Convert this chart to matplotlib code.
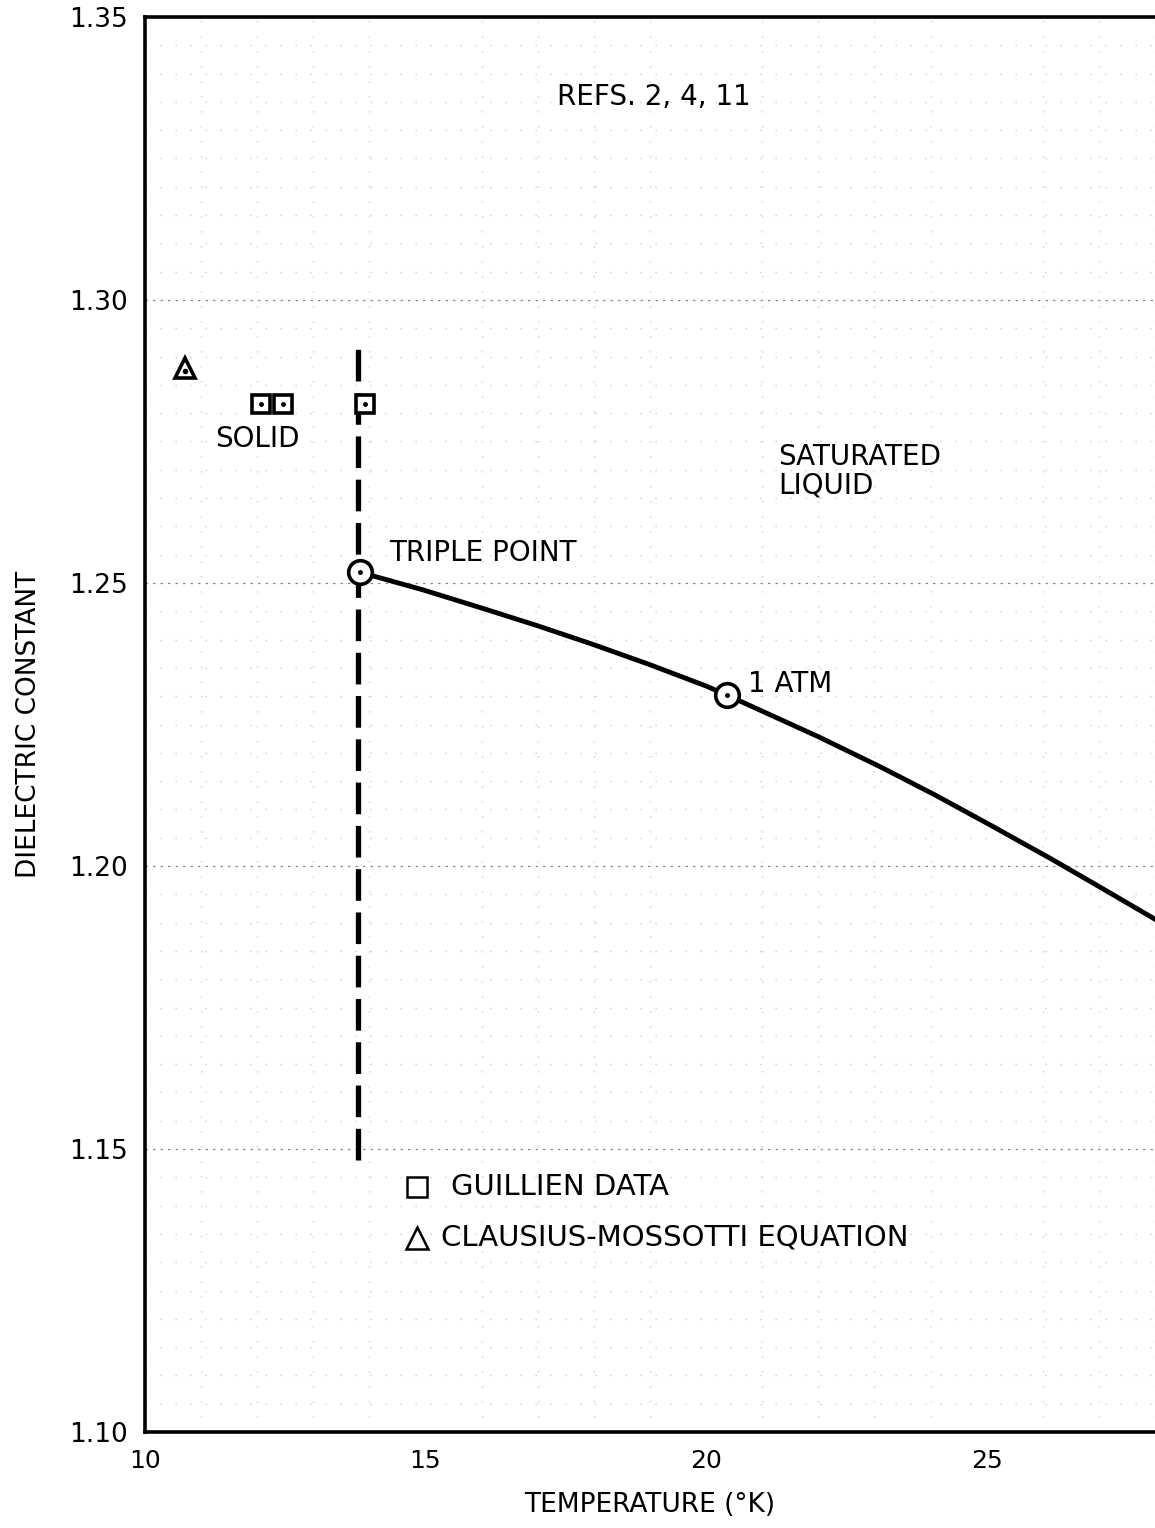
import matplotlib
matplotlib.use("Agg")
import matplotlib.pyplot as plt
import numpy as np

# saturated liquid curve
temp = [13.83, 14.95, 15.96, 16.98, 17.97, 18.99, 20.0, 20.37, 22.01, 23.13, 24.09, 25.09, 26.16, 27.05, 28.0]
eps = [1.2519, 1.2488, 1.2457, 1.2425, 1.2392, 1.2356, 1.2318, 1.2302, 1.2228, 1.2174, 1.2125, 1.2071, 1.2012, 1.1961, 1.1906]

triple_pt = (13.83, 1.2519)
atm_pt = (20.37, 1.2302)
melt_T = 13.8
melt_range = (1.148, 1.293)

guillien_T = [12.06, 12.46, 13.93]
guillien_eps = [1.2816, 1.2816, 1.2816]
cm_T = [10.71]
cm_eps = [1.288]

xticks = [10, 15, 20, 25]
yticks = [1.10, 1.15, 1.20, 1.25, 1.30, 1.35]

plt.rcParams['font.family'] = ['DejaVu Sans']

fig = plt.figure(figsize=(11.55, 15.28), dpi=100)
ax = fig.add_axes([0.1255, 0.0628, 0.8745, 0.9261])
ax.set_xlim(10, 28)
ax.set_ylim(1.10, 1.35)

# faint graph-paper grid
ax.set_xticks(np.arange(10, 29, 1), minor=True)
ax.set_yticks(np.arange(1.10, 1.35, 0.005), minor=True)
ax.grid(which='minor', color='#c4c4c4', linestyle=(0, (1, 11)), linewidth=0.9)
ax.grid(which='major', axis='y', color='#8a8a8a', linestyle=(0, (2, 4)), linewidth=0.9)

ax.set_xticks(xticks)
ax.set_yticks(yticks)
ax.set_xticklabels([str(t) for t in xticks], fontsize=18)
ax.set_yticklabels(['%.2f' % t for t in yticks], fontsize=19)
ax.tick_params(which='both', length=0, pad=12)

for s in ['left', 'bottom', 'top']:
    ax.spines[s].set_linewidth(2.6)
ax.spines['right'].set_visible(False)

# melting line
ax.plot([melt_T, melt_T], melt_range, color='black', lw=3.8, linestyle=(0, (6, 2.2)), zorder=3)

# saturated liquid curve
ax.plot(temp, eps, color='black', lw=3.5, zorder=4)

# triple point and normal boiling point
for px, py in [triple_pt, atm_pt]:
    ax.plot(px, py, 'o', ms=17, mfc='white', mec='black', mew=2.6, zorder=5)
    ax.plot(px, py, 'o', ms=2.5, color='black', zorder=6)

# data points
ax.plot(guillien_T, guillien_eps, 's', ms=13, mfc='white', mec='black', mew=2.6, zorder=5)
ax.plot(guillien_T, guillien_eps, 'o', ms=2.5, color='black', zorder=6)
ax.plot(cm_T, cm_eps, '^', ms=14, mfc='white', mec='black', mew=2.6, zorder=5)
ax.plot(cm_T, [e - 0.0005 for e in cm_eps], 'o', ms=3, color='black', zorder=6)

# annotations
ax.text(19.07, 1.3359, 'REFS. 2, 4, 11', fontsize=20, ha='center', va='center')
ax.text(12.01, 1.2754, 'SOLID', fontsize=20, ha='center', va='center')
ax.text(21.28, 1.2697, 'SATURATED\nLIQUID', fontsize=20, ha='left', va='center', linespacing=1.0)
ax.text(14.36, 1.2553, 'TRIPLE POINT', fontsize=20, ha='left', va='center')
ax.text(20.75, 1.2322, '1 ATM', fontsize=20, ha='left', va='center')

# legend drawn as text and markers
ax.plot([14.85], [1.1433], 's', ms=15, mfc='white', mec='black', mew=1.8)
ax.text(15.45, 1.1433, 'GUILLIEN DATA', fontsize=21, ha='left', va='center')
ax.plot([14.85], [1.1343], '^', ms=16, mfc='white', mec='black', mew=1.8)
ax.text(15.27, 1.1343, 'CLAUSIUS-MOSSOTTI EQUATION', fontsize=21, ha='left', va='center')

ax.set_xlabel('TEMPERATURE (°K)', fontsize=19, labelpad=14)
ax.set_ylabel('DIELECTRIC CONSTANT', fontsize=19, labelpad=20)

fig.savefig('out.png', dpi=100)
